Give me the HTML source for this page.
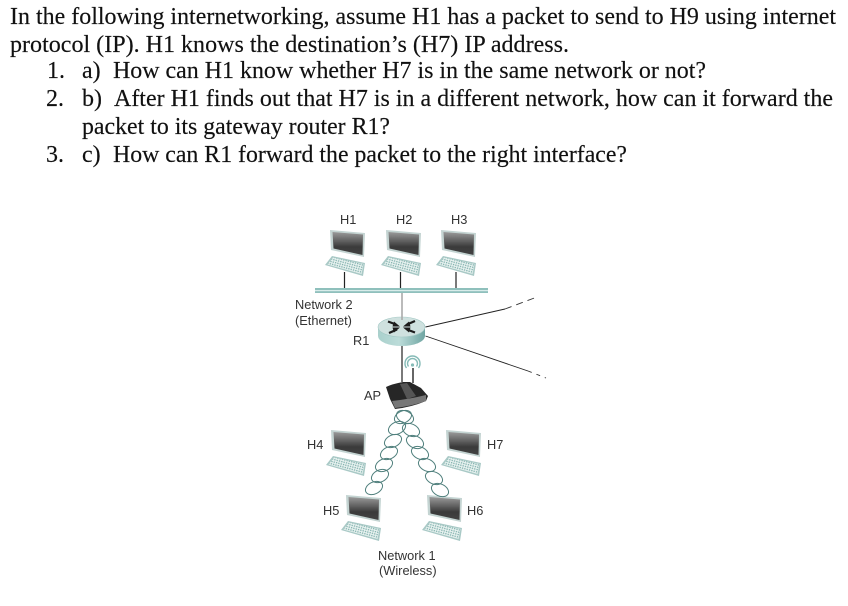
<!DOCTYPE html>
<html><head><meta charset="utf-8"><style>
html,body{margin:0;padding:0;background:#fff}
svg{display:block}
.t{font-family:"Liberation Serif",serif;font-size:24px;fill:#111;stroke:#111;stroke-width:.15}
.l{font-family:"Liberation Sans",sans-serif;font-size:12.800px;fill:#333}
.c{fill:none;stroke:#4f7f7c;stroke-width:1}
</style></head><body>
<svg width="848" height="606" viewBox="0 0 848 606" xmlns="http://www.w3.org/2000/svg">
<defs>
<linearGradient id="scr" x1="0" y1="0" x2="0" y2="1"><stop offset="0" stop-color="#9a9a9a"/><stop offset=".65" stop-color="#3a3a3a"/><stop offset="1" stop-color="#444"/></linearGradient>
<linearGradient id="rt" x1="0" y1="0" x2="1" y2="0"><stop offset="0" stop-color="#a9d0cc"/><stop offset=".45" stop-color="#bcdcd9"/><stop offset="1" stop-color="#6fa5a2"/></linearGradient>
<pattern id="dots" width="2.400" height="2.400" patternUnits="userSpaceOnUse" patternTransform="rotate(15)"><rect width="2.400" height="2.400" fill="#e8f2f0"/><rect width="1.300" height="1.300" fill="#7fb0ac"/></pattern>
<filter id="b"><feGaussianBlur stdDeviation=".35"/></filter>
<g id="pc">
<polygon points="-1,-1 34,2 33,26 0,19" fill="#c4d4d2"/>
<polygon points="1.500,1 32,3.500 31.500,24 2.500,17.500" fill="url(#scr)"/>
<polygon points="1,25 34,32 32,45 -6,34" fill="#a9c9c6"/>
<polygon points="2,26.500 32.500,33 30.500,43 -3.500,33.500" fill="url(#dots)"/>
</g>
</defs>
<text class="t" x="10" y="24" textLength="826" lengthAdjust="spacingAndGlyphs">In the following internetworking, assume H1 has a packet to send to H9 using internet</text>
<text class="t" x="10" y="52" textLength="559" lengthAdjust="spacingAndGlyphs">protocol (IP). H1 knows the destination’s (H7) IP address.</text>
<text class="t" x="47" y="78">1.</text><text class="t" x="82" y="78">a)</text>
<text class="t" x="113" y="78" textLength="593" lengthAdjust="spacingAndGlyphs">How can H1 know whether H7 is in the same network or not?</text>
<text class="t" x="46" y="106">2.</text><text class="t" x="82" y="106">b)</text>
<text class="t" x="114" y="106" textLength="719" lengthAdjust="spacingAndGlyphs">After H1 finds out that H7 is in a different network, how can it forward the</text>
<text class="t" x="82" y="134" textLength="308" lengthAdjust="spacingAndGlyphs">packet to its gateway router R1?</text>
<text class="t" x="46" y="162">3.</text><text class="t" x="82" y="162">c)</text>
<text class="t" x="113" y="162" textLength="514" lengthAdjust="spacingAndGlyphs">How can R1 forward the packet to the right interface?</text>

<g filter="url(#b)">
<use href="#pc" x="331" y="231"/><use href="#pc" x="387" y="231"/><use href="#pc" x="442" y="231"/>
<use href="#pc" x="332" y="431"/><use href="#pc" x="447" y="431"/>
<use href="#pc" x="347" y="496"/><use href="#pc" x="428" y="496"/>
<rect x="315" y="288" width="173" height="5" fill="#8fc0bc"/>
<rect x="315" y="290" width="173" height="1.200" fill="#d8ecea"/>
<path d="M378 327V336A23.500 10 0 0 0 425 336V327Z" fill="url(#rt)"/>
<ellipse cx="401.500" cy="327" rx="23.500" ry="10" fill="#cfe1df" stroke="#a3c8c5" stroke-width=".6"/>
<path d="M413 383V368" stroke="#333" stroke-width="1.500"/>
<path d="M406.500 368A7.500 7.500 0 1 1 418.500 368M408.500 366.500A5 5 0 1 1 416.500 366.500" fill="none" stroke="#86bbb7" stroke-width="1.400"/>
<circle cx="412.500" cy="365" r="1.600" fill="#86bbb7"/>
</g>
<path d="M344.500 272V288M400.500 272V288M456 272V288" stroke="#222" stroke-width="1.200"/>
<path d="M402 293V320" stroke="#aaa" stroke-width="1.600"/>
<path d="M402 346V382" stroke="#222" stroke-width="1.200"/>
<path d="M425.500 327L505 309" stroke="#222" stroke-width=".9"/>
<path d="M505 309L537 297" stroke="#333" stroke-width=".9" stroke-dasharray="7 5"/>
<path d="M425.500 336L528 371" stroke="#222" stroke-width=".9"/>
<path d="M528 371L546 378" stroke="#333" stroke-width=".9" stroke-dasharray="4 5"/>
<path d="M388 321.500L396 324.500M415 321L407 324.500M389 333L397 329.500M415 332.500L407 329.500" stroke="#1c1c1c" stroke-width="2.200"/>
<path d="M394 321.500L400 326.500L392.500 326.500ZM409 321.500L403 326.500L410.500 326.500ZM394 332.500L400 327.500L392.500 327.500ZM409 332.500L403 327.500L410.500 327.500Z" fill="#1c1c1c"/>
<ellipse class="c" cx="374" cy="488" rx="9" ry="6" transform="rotate(-25 374 488)"/>
<ellipse class="c" cx="380" cy="476" rx="9" ry="6" transform="rotate(-25 380 476)"/>
<ellipse class="c" cx="384" cy="465" rx="9" ry="6" transform="rotate(-25 384 465)"/>
<ellipse class="c" cx="389" cy="453" rx="9" ry="6" transform="rotate(-25 389 453)"/>
<ellipse class="c" cx="393" cy="441" rx="9" ry="6" transform="rotate(-25 393 441)"/>
<ellipse class="c" cx="397" cy="428" rx="9" ry="6" transform="rotate(-25 397 428)"/>
<ellipse class="c" cx="403" cy="417" rx="9" ry="6" transform="rotate(-25 403 417)"/>
<ellipse class="c" cx="440" cy="490" rx="9" ry="6" transform="rotate(25 440 490)"/>
<ellipse class="c" cx="434" cy="478" rx="9" ry="6" transform="rotate(25 434 478)"/>
<ellipse class="c" cx="427" cy="465" rx="9" ry="6" transform="rotate(25 427 465)"/>
<ellipse class="c" cx="420" cy="453" rx="9" ry="6" transform="rotate(25 420 453)"/>
<ellipse class="c" cx="415" cy="442" rx="9" ry="6" transform="rotate(25 415 442)"/>
<ellipse class="c" cx="411" cy="430" rx="9" ry="6" transform="rotate(25 411 430)"/>
<ellipse class="c" cx="405" cy="417" rx="9" ry="6" transform="rotate(25 405 417)"/>
<g filter="url(#b)">
<path d="M386 387Q392 384 403 382L410 382L421 388L428 396L426 401Q412 407 395 409L390 399Z" fill="#262626"/>
<path d="M392 401Q410 399 426 395L426 401Q412 406 395 408Z" fill="#777"/>
<path d="M400 384L407 383L416 396L407 399Z" fill="#555"/>
</g>
<text class="l" x="340" y="224">H1</text><text class="l" x="396" y="224">H2</text><text class="l" x="451" y="224">H3</text>
<text class="l" x="295" y="309">Network 2</text><text class="l" x="295" y="325">(Ethernet)</text>
<text class="l" x="353" y="345">R1</text><text class="l" x="364" y="400">AP</text>
<text class="l" x="307" y="449">H4</text><text class="l" x="487" y="449">H7</text>
<text class="l" x="323" y="515">H5</text><text class="l" x="467" y="515">H6</text>
<text class="l" x="378" y="560">Network 1</text><text class="l" x="379" y="575">(Wireless)</text>
</svg>
</body></html>
